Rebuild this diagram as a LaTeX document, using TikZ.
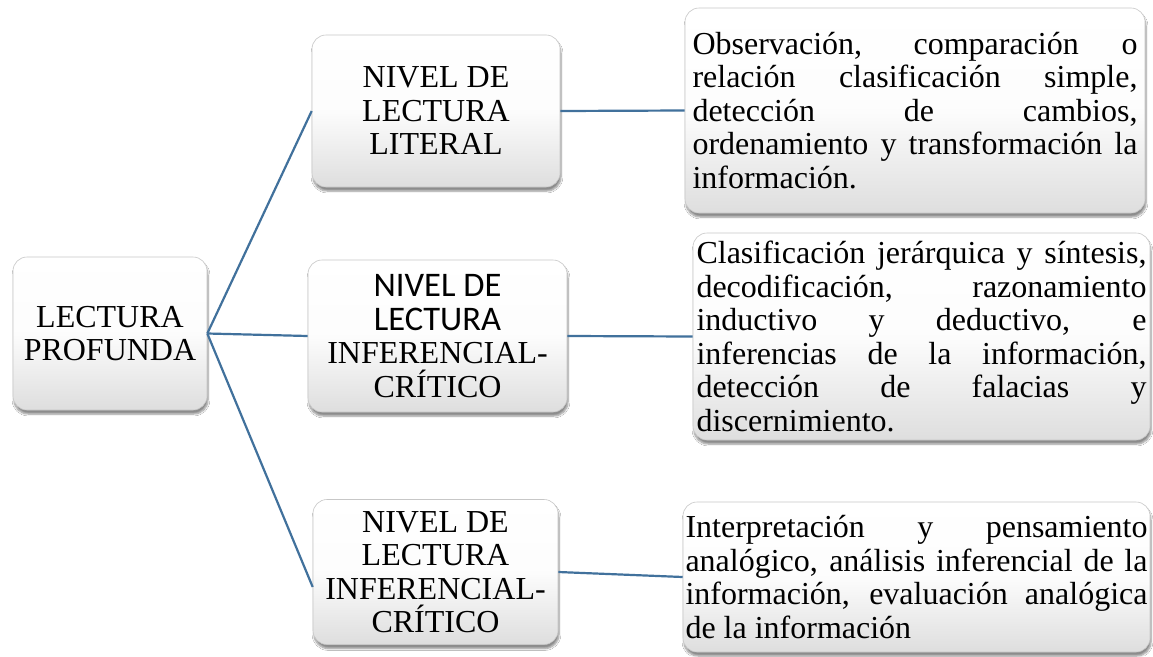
\documentclass[tikz,border=0pt]{standalone}
\usepackage{fontspec}
\setmainfont{Liberation Serif}
\newfontfamily\calib{Carlito}
\usetikzlibrary{shadows,shadows.blur,calc}
\newcommand\jl[2]{\makebox[#1][s]{#2}}
\newcommand\sanstext[1]{{\calib\fontsize{34.5}{33.5}\selectfont #1}}
\definecolor{linkblue}{RGB}{65,113,156}
\tikzset{
  box/.style={rounded corners=14pt, draw=black!22, line width=0.6pt,
    top color=white, bottom color=black!13, middle color=black!1,
    blur shadow={shadow xshift=1pt, shadow yshift=-4pt, shadow blur steps=6, shadow opacity=45},
    inner sep=0pt, align=center,
    font=\fontsize{32}{33.5}\selectfont},
  desc/.style={box, align=left},
  link/.style={draw=linkblue, line width=2.2pt}
}
\begin{document}
\begin{tikzpicture}[x=1pt,y=-1pt]
\useasboundingbox (0,0) rectangle (1153,656);
\fill[white] (0,0) rectangle (1153,656);
\node[box, minimum width=194pt, minimum height=153pt] (root) at (110,333.5) {LECTURA\\PROFUNDA};
\node[box, minimum width=248pt, minimum height=152pt] (l1) at (436,111) {NIVEL DE\\LECTURA\\LITERAL};
\node[box, minimum width=259pt, minimum height=152pt] (l2) at (437.5,336) {\sanstext{NIVEL DE}\\\sanstext{LECTURA}\\INFERENCIAL-\\CRÍTICO};
\node[box, minimum width=245pt, minimum height=145pt] (l3) at (435.5,572) {NIVEL DE\\LECTURA\\INFERENCIAL-\\CRÍTICO};
\node[desc, minimum width=460pt, minimum height=205pt] (d1) at (915,110.5) {%
\jl{445pt}{Observación, comparación o}\\
\jl{445pt}{relación clasificación simple,}\\
\jl{445pt}{detección de cambios,}\\
\jl{445pt}{ordenamiento y transformación la}\\
información.};
\node[desc, minimum width=457pt, minimum height=207pt] (d2) at (921.5,336.5) {%
\jl{450pt}{Clasificación jerárquica y síntesis,}\\
\jl{450pt}{decodificación, razonamiento}\\
\jl{450pt}{inductivo y deductivo, e}\\
\jl{450pt}{inferencias de la información,}\\
\jl{450pt}{detección de falacias y}\\
discernimiento.};
\node[desc, minimum width=467pt, minimum height=150pt] (d3) at (916.5,577) {%
\jl{462pt}{Interpretación y pensamiento}\\
\jl{462pt}{analógico, análisis inferencial de la}\\
\jl{462pt}{información, evaluación analógica}\\
de la información};
\draw[link] (root.east) -- (l1.west);
\draw[link] (root.east) -- (l2.west);
\draw[link] (root.east) -- ($(l3.west)+(0,15)$);
\draw[link] (l1.east) -- (d1.west);
\draw[link] (l2.east) -- (d2.west);
\draw[link] (l3.east) -- (d3.west);
\end{tikzpicture}
\end{document}
